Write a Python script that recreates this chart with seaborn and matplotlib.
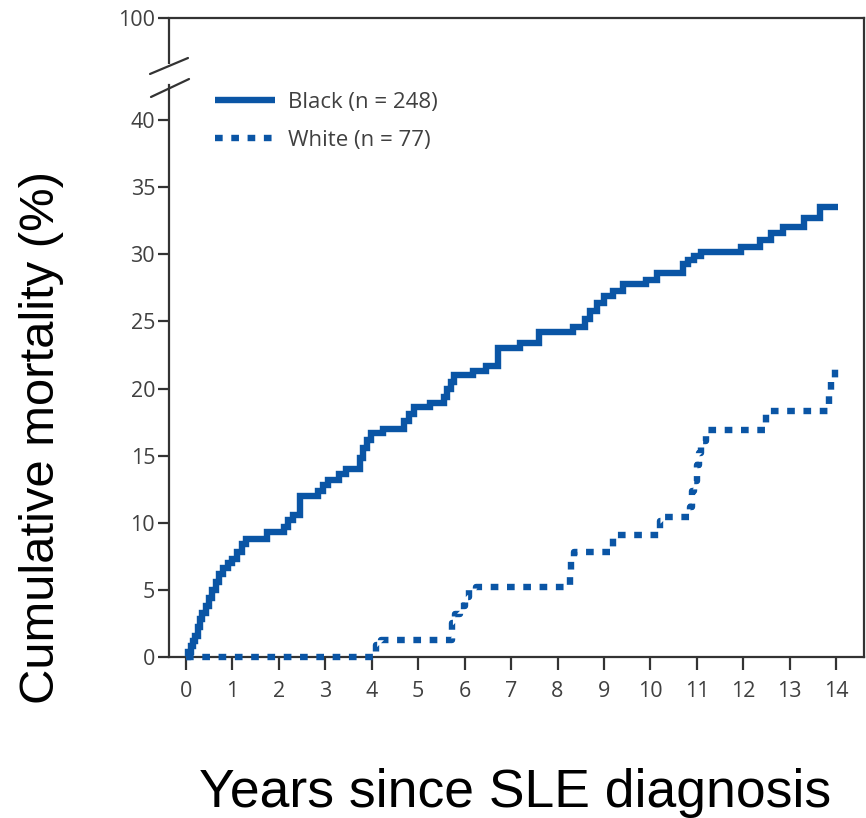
import matplotlib
matplotlib.use("Agg")
import matplotlib.pyplot as plt
import seaborn as sns
import pandas as pd

# ---- data (step points: value holds from the year on) ----
black_years = [0, 0.05, 0.1, 0.15, 0.2, 0.25, 0.3, 0.35, 0.42, 0.5, 0.57, 0.65, 0.72, 0.8, 0.9,
               1.0, 1.1, 1.2, 1.3, 1.75, 2.1, 2.2, 2.3, 2.45, 2.85, 2.95, 3.05, 3.3, 3.45, 3.75,
               3.82, 3.9, 3.98, 4.25, 4.7, 4.8, 4.9, 5.25, 5.55, 5.62, 5.7, 5.78, 6.18, 6.47,
               6.72, 7.19, 7.6, 8.34, 8.6, 8.7, 8.85, 9.0, 9.2, 9.4, 9.9, 10.15, 10.7, 10.8,
               10.95, 11.1, 11.95, 12.35, 12.6, 12.85, 13.3, 13.65, 14.05]
black_mort = [0, 0.4, 0.8, 1.2, 1.6, 2.2, 2.8, 3.3, 3.8, 4.4, 5.0, 5.6, 6.2, 6.6, 7.0,
              7.3, 7.8, 8.4, 8.8, 9.3, 9.7, 10.2, 10.6, 12.0, 12.4, 12.8, 13.2, 13.6, 14.0, 14.8,
              15.6, 16.2, 16.7, 17.0, 17.6, 18.1, 18.6, 18.9, 19.4, 20.0, 20.5, 21.0, 21.3, 21.7,
              23.0, 23.4, 24.2, 24.6, 25.2, 25.8, 26.4, 26.9, 27.3, 27.8, 28.1, 28.6, 29.3, 29.6,
              29.9, 30.2, 30.55, 31.05, 31.55, 32.0, 32.7, 33.5, 33.5]

white_years = [0, 4.1, 4.2, 5.72, 5.8, 5.9, 6.0, 6.1, 6.25, 8.27, 8.3, 8.35, 9.2, 10.2, 10.3,
               10.85, 10.9, 10.95, 11.0, 11.05, 11.1, 11.2, 12.5, 13.85, 13.9, 13.98]
white_mort = [0, 0.9, 1.3, 2.5, 3.2, 3.8, 4.5, 5.0, 5.2, 6.4, 7.3, 7.8, 9.1, 10.1, 10.4,
              11.2, 12.4, 13.1, 14.3, 15.2, 16.1, 16.9, 18.3, 19.5, 20.6, 21.5]

legend_labels = ["Black (n = 248)", "White (n = 77)"]
x_ticks = list(range(0, 15))
y_ticks = [0, 5, 10, 15, 20, 25, 30, 35, 40]
y_top_label = "100"
x_title = "Years since SLE diagnosis"
y_title = "Cumulative mortality (%)"

# ---- style ----
sns.set_theme(style="white")
plt.rcParams['font.family'] = ['Open Sans', 'DejaVu Sans']

BLUE = "#0a55a5"
SPINE = "#333333"
TICKTXT = "#404040"
Y_TOP = 47.6      # position of the "100" line on the broken axis

fig = plt.figure(figsize=(8.66, 8.18), dpi=100)
ax = fig.add_axes([169 / 866, 1 - 657 / 818, 695 / 866, 639 / 818])

df_b = pd.DataFrame({"years": black_years, "mort": black_mort})
df_w = pd.DataFrame({"years": white_years, "mort": white_mort})

sns.lineplot(data=df_b, x="years", y="mort", ax=ax, color=BLUE, linewidth=4.6,
             drawstyle="steps-post", estimator=None, sort=False,
             label=legend_labels[0], solid_joinstyle="miter", solid_capstyle="butt",
             clip_on=False, zorder=4)
sns.lineplot(data=df_w, x="years", y="mort", ax=ax, color=BLUE, linewidth=4.6,
             drawstyle="steps-post", estimator=None, sort=False,
             linestyle=(0, (1.2, 1.35)), label=legend_labels[1],
             clip_on=False, zorder=4)

xmin, xmax = -0.366, 14.6
ax.set_xlim(xmin, xmax)
ax.set_ylim(0, Y_TOP)
ax.set_xticks(x_ticks)
ax.set_xticklabels([str(t) for t in x_ticks])
ax.set_yticks(y_ticks + [Y_TOP])
ax.set_yticklabels([str(t) for t in y_ticks] + [y_top_label])
ax.set_xlabel("")
ax.set_ylabel("")

for s in ax.spines.values():
    s.set_color(SPINE)
    s.set_linewidth(1.6)
    s.set_visible(True)
ax.spines['left'].set_bounds(0, 42.6)
# upper piece of the broken left axis
ax.plot([0, 0], [(44.2) / Y_TOP, 1.0], transform=ax.transAxes, color=SPINE,
        lw=1.6, clip_on=False, solid_capstyle="butt")
# break slashes
ax.plot([-0.0273, 0.0273], [0.9124, 0.9374], transform=ax.transAxes, color=SPINE,
        lw=1.6, clip_on=False)
ax.plot([-0.0259, 0.0288], [0.8764, 0.9045], transform=ax.transAxes, color=SPINE,
        lw=1.6, clip_on=False)

ax.tick_params(axis="y", which="major", left=True, length=8, width=1.6, color=SPINE,
               labelsize=15.5, labelcolor=TICKTXT, pad=2)
ax.tick_params(axis="x", which="major", bottom=True, length=9, width=1.6, color=SPINE,
               labelsize=15.5, labelcolor=TICKTXT, pad=8)
ax.grid(False)

leg = ax.legend(loc="upper left", bbox_to_anchor=((215 - 169) / 695, (657 - 92) / 639),
                frameon=False, fontsize=16, handlelength=2.7, handletextpad=0.59,
                labelspacing=0.76, borderpad=0, borderaxespad=0)
for t in leg.get_texts():
    t.set_color(TICKTXT)

fig.text(515 / 866, 1 - 793 / 818, x_title, ha="center", va="center",
         fontsize=38.5, family=["Liberation Sans", "DejaVu Sans"], color="black")
fig.text(42 / 866, 1 - 437 / 818, y_title, ha="center", va="center", rotation=90,
         fontsize=35.3, family=["Liberation Sans", "DejaVu Sans"], color="black")

fig.savefig("out.png", dpi=100)
